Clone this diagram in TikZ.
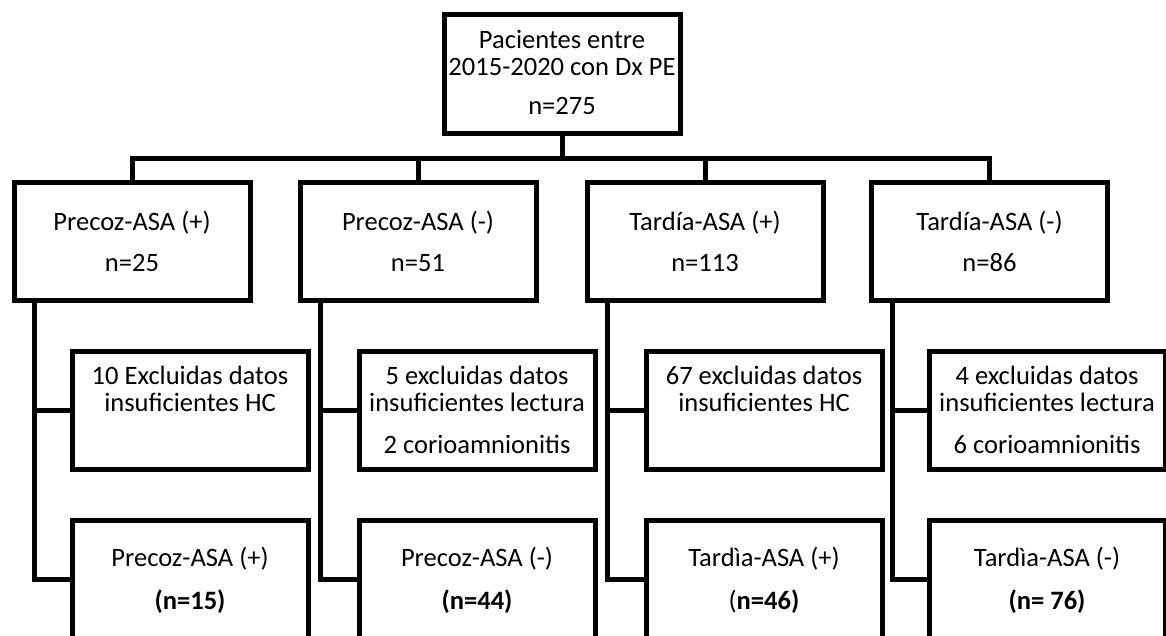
\documentclass[tikz,border=0pt]{standalone}
\usepackage{fontspec}
\setmainfont{Carlito}
\usetikzlibrary{calc}
\begin{document}
\begin{tikzpicture}[x=0.75pt,y=-0.75pt,
  box/.style={draw=black,line width=3.75pt,fill=white,inner sep=0pt,minimum width=177pt,minimum height=88.5pt},
  conn/.style={draw=black,line width=3.75pt,line join=miter},
  lbl/.style={anchor=base,inner sep=0pt,font=\fontsize{19.9}{24}\selectfont},
  lblb/.style={lbl,font=\fontsize{19.9}{24}\selectfont\bfseries}]
\useasboundingbox (0,0) rectangle (1166,635);
\clip (0,0) rectangle (1166,635);

% boxes
\node[box] (top) at (562,74) {};
\node[box] (r1) at (132,241.5) {};
\node[box] (r2) at (418,241.5) {};
\node[box] (r3) at (705,241.5) {};
\node[box] (r4) at (989.5,241.5) {};
\node[box] (e1) at (190,410) {};
\node[box] (e2) at (477,410) {};
\node[box] (e3) at (764,410) {};
\node[box] (e4) at (1047,410) {};
\node[box] (b1) at (190,579) {};
\node[box] (b2) at (477,579) {};
\node[box] (b3) at (764,579) {};
\node[box] (b4) at (1047,579) {};

% bus
\coordinate (bus) at (0,158);
\draw[conn] (top.south) -- (top.south |- bus);
\draw[conn] (r1.north) -- (r1.north |- bus) -- (r4.north |- bus) -- (r4.north);
\draw[conn] (r2.north) -- (r2.north |- bus);
\draw[conn] (r3.north) -- (r3.north |- bus);

% stems
\coordinate (s1) at ($(r1.south west)+(23,0)$);
\coordinate (s2) at ($(r2.south west)+(23,0)$);
\coordinate (s3) at ($(r3.south west)+(23,0)$);
\coordinate (s4) at ($(r4.south west)+(23,0)$);
\foreach \i in {1,2,3,4}{
  \draw[conn] (s\i) |- (b\i.west);
  \draw[conn] (s\i |- e\i.west) -- (e\i.west);
}

% texts
\node[lbl] (t0a) at (top |- 0,49) {Pacientes entre};
\node[lbl] (t0b) at (top |- 0,75) {2015-2020 con Dx PE};
\node[lbl] (t0c) at (top |- 0,114) {n=275};

\node[lbl] (t1a) at (r1 |- 0,230.5) {Precoz-ASA (+)};
\node[lbl] (t1b) at (r1 |- 0,271) {n=25};
\node[lbl] (t2a) at (r2 |- 0,230.5) {Precoz-ASA (-)};
\node[lbl] (t2b) at (r2 |- 0,271) {n=51};
\node[lbl] (t3a) at (r3 |- 0,230.5) {Tardía-ASA (+)};
\node[lbl] (t3b) at (r3 |- 0,271) {n=113};
\node[lbl] (t4a) at (r4 |- 0,230.5) {Tardía-ASA (-)};
\node[lbl] (t4b) at (r4 |- 0,271) {n=86};

\node[lbl] (u1a) at (e1 |- 0,384.5) {10 Excluidas datos};
\node[lbl] (u1b) at (e1 |- 0,411) {insuficientes HC};
\node[lbl] (u2a) at (e2 |- 0,384.5) {5 excluidas datos};
\node[lbl] (u2b) at (e2 |- 0,411) {insuficientes lectura};
\node[lbl] (u2c) at (e2 |- 0,453.5) {2 corioamnionitis};
\node[lbl] (u3a) at (e3 |- 0,384.5) {67 excluidas datos};
\node[lbl] (u3b) at (e3 |- 0,411) {insuficientes HC};
\node[lbl] (u4a) at (e4 |- 0,384.5) {4 excluidas datos};
\node[lbl] (u4b) at (e4 |- 0,411) {insuficientes lectura};
\node[lbl] (u4c) at (e4 |- 0,453.5) {6 corioamnionitis};

\node[lbl] (v1a) at (b1 |- 0,566.5) {Precoz-ASA (+)};
\node[lblb] (v1b) at (b1 |- 0,609) {(n=15)};
\node[lbl] (v2a) at (b2 |- 0,566.5) {Precoz-ASA (-)};
\node[lblb] (v2b) at (b2 |- 0,609) {(n=44)};
\node[lbl] (v3a) at (b3 |- 0,566.5) {Tardìa-ASA (+)};
\node[lblb] (v3b) at (b3 |- 0,609) {{\mdseries(}n=46)};
\node[lbl] (v4a) at (b4 |- 0,566.5) {Tardìa-ASA (-)};
\node[lblb] (v4b) at (b4 |- 0,609) {(n= 76)};
\end{tikzpicture}
\end{document}
